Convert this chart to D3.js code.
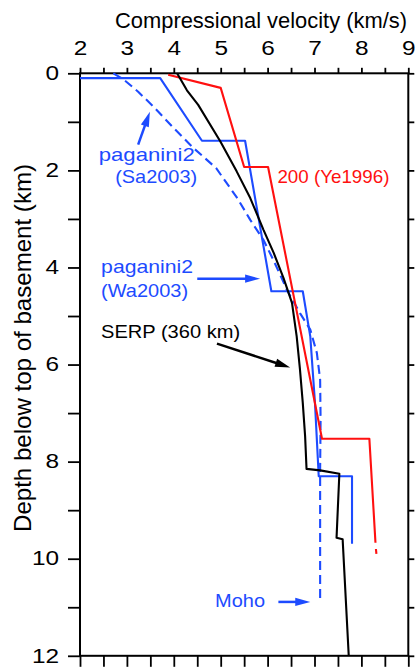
<!DOCTYPE html>
<html>
<head>
<meta charset="utf-8">
<script src="https://cdn.jsdelivr.net/npm/d3@7"></script>
<style>
  html, body { margin: 0; padding: 0; background: #fff; }
  svg { display: block; font-family: "Liberation Sans", Arial, Helvetica, sans-serif; }
</style>
</head>
<body>
<svg id="chart" width="416" height="668"></svg>
<script>
// ---- data: P-wave velocity (km/s) vs depth below top of basement (km) ----
const velocityTicks = [2, 3, 4, 5, 6, 7, 8, 9];
const depthTicks = [0, 2, 4, 6, 8, 10, 12];

// SERP line, 360 km
const serpVelocity = [4.07, 4.28, 4.52, 4.99, 5.34, 5.63, 5.91, 6.13, 6.34, 6.52, 6.62, 6.69, 6.75, 6.80, 6.83, 7.12, 7.53, 7.47, 7.60, 7.73];
const serpDepth    = [0.00, 0.35, 0.65, 1.40, 2.02, 2.57, 3.22, 3.70, 4.22, 4.73, 5.42, 6.10, 6.79, 7.48, 8.15, 8.18, 8.25, 9.57, 9.60, 12.0];

// line 200 (Ye 1996)
const yeVelocity = [3.88, 5.00, 5.50, 6.01, 7.16, 8.17, 8.30, null, 8.31, 8.32];
const yeDepth    = [0.03, 0.30, 1.93, 1.93, 7.53, 7.53, 9.67, null, 9.80, 9.90];

// paganini2 (Wa 2003), layered model
const waVelocity = [2.00, 3.71, 4.60, 5.52, 6.08, 6.75, 6.91, 7.01, 7.09, 7.80, 7.80];
const waDepth    = [0.10, 0.10, 1.39, 1.39, 4.49, 4.49, 5.42, 6.79, 8.30, 8.30, 9.69];

// paganini2 (Sa 2003), gradient model
const saVelocity = [2.71, 2.92, 3.24, 3.56, 3.99, 4.42, 4.90, 5.36, 5.63, 5.91, 6.12, 6.30, 6.41, 6.69, 6.91, 7.05, 7.12, 7.13, 7.12, 7.12];
const saDepth    = [0.00, 0.12, 0.38, 0.68, 1.12, 1.54, 1.95, 2.58, 3.02, 3.43, 3.84, 4.22, 4.46, 4.94, 5.28, 5.76, 6.31, 7.13, 8.16, 10.87];

const BLUE = "#1d4bff";
const RED = "#ff1010";
const BLACK = "#000";

const svg = d3.select("#chart");
const x = d3.scaleLinear().domain([2, 9]).range([80, 408.3]);
const y = d3.scaleLinear().domain([0, 12]).range([73.3, 655.8]);

const zipSeries = (vs, ds) => vs.map((v, i) => ({ v, d: ds[i] }));

// ---- axes ----
const tickFont = 19.5, tickStretch = 1.25;

const topAxis = d3.axisTop(x)
  .tickValues(d3.range(2, 9.01, 0.5))
  .tickSize(5.5).tickPadding(12.5)
  .tickFormat(v => velocityTicks.includes(v) ? String(v) : "");
const gTop = svg.append("g").attr("transform", `translate(0,${y(0)})`).call(topAxis);

const leftAxis = d3.axisLeft(y)
  .tickValues(d3.range(0, 12.01, 1))
  .tickSize(12).tickPadding(9)
  .tickFormat(v => depthTicks.includes(v) ? String(v) : "");
const gLeft = svg.append("g").attr("transform", `translate(${x(2)},0)`).call(leftAxis);

const rightAxis = d3.axisRight(y).tickValues(d3.range(0, 12.01, 1)).tickSize(6).tickFormat("");
const gRight = svg.append("g").attr("transform", `translate(${x(9)},0)`).call(rightAxis);

const bottomAxis = d3.axisBottom(x).tickValues(d3.range(2, 9.01, 0.5)).tickSize(11).tickFormat("");
const gBottom = svg.append("g").attr("transform", `translate(0,${y(12)})`).call(bottomAxis);

[gTop, gLeft, gRight, gBottom].forEach(g => {
  g.select(".domain").attr("stroke", BLACK).attr("stroke-width", 2).attr("d", null);
  g.selectAll(".tick line").attr("stroke", BLACK).attr("stroke-width", 1.8);
  g.selectAll(".tick text").attr("fill", BLACK).attr("font-size", tickFont)
    .attr("font-family", "'Liberation Sans', Arial, sans-serif");
});
gTop.selectAll(".tick text").attr("transform", `scale(${tickStretch},1)`);
gLeft.selectAll(".tick text")
  .attr("x", -21 / tickStretch)
  .attr("transform", `scale(${tickStretch},1)`);

// plot frame
svg.append("rect")
  .attr("x", x(2)).attr("y", y(0))
  .attr("width", x(9) - x(2)).attr("height", y(12) - y(0))
  .attr("fill", "none").attr("stroke", BLACK).attr("stroke-width", 2);

// ---- axis titles ----
svg.append("text")
  .attr("x", 115).attr("y", 28)
  .attr("font-size", 22.5).attr("textLength", 292).attr("lengthAdjust", "spacingAndGlyphs")
  .text("Compressional velocity (km/s)");

svg.append("text")
  .attr("transform", "translate(31,348) rotate(-90)")
  .attr("text-anchor", "middle")
  .attr("font-size", 24).attr("textLength", 368).attr("lengthAdjust", "spacingAndGlyphs")
  .text("Depth below top of basement (km)");

// ---- velocity profiles ----
const line = d3.line()
  .defined(p => p.v != null && p.d != null)
  .x(p => x(p.v)).y(p => y(p.d));

const plot = svg.append("g").attr("fill", "none").attr("stroke-width", 2.1).attr("stroke-linejoin", "round");
plot.append("path").datum(zipSeries(saVelocity, saDepth))
  .attr("d", line).attr("stroke", BLUE).attr("stroke-dasharray", "9,5");
plot.append("path").datum(zipSeries(waVelocity, waDepth))
  .attr("d", line).attr("stroke", BLUE);
plot.append("path").datum(zipSeries(yeVelocity, yeDepth))
  .attr("d", line).attr("stroke", RED);
plot.append("path").datum(zipSeries(serpVelocity, serpDepth))
  .attr("d", line).attr("stroke", BLACK);

// ---- annotations (positions in velocity / depth units) ----
const labels = [
  { text: "paganini2",    v: 2.40, d: 1.80,  w: 96,  color: BLUE },
  { text: "(Sa2003)",     v: 2.75, d: 2.26,  w: 82,  color: BLUE },
  { text: "200 (Ye1996)", v: 6.21, d: 2.26,  w: 112, color: RED },
  { text: "paganini2",    v: 2.45, d: 4.12,  w: 92,  color: BLUE },
  { text: "(Wa2003)",     v: 2.45, d: 4.60,  w: 87,  color: BLUE },
  { text: "SERP (360 km)",v: 2.45, d: 5.46,  w: 139, color: BLACK },
  { text: "Moho",         v: 4.88, d: 10.99, w: 50,  color: BLUE }
];
svg.append("g").selectAll("text").data(labels).join("text")
  .attr("x", l => x(l.v)).attr("y", l => y(l.d))
  .attr("font-size", 19)
  .attr("textLength", l => l.w).attr("lengthAdjust", "spacingAndGlyphs")
  .attr("fill", l => l.color)
  .text(l => l.text);

const arrows = [
  { v0: 3.24, d0: 1.47, v1: 3.49, d1: 0.79,  color: BLUE },
  { v0: 4.50, d0: 4.23, v1: 5.84, d1: 4.23,  color: BLUE },
  { v0: 4.92, d0: 5.57, v1: 6.48, d1: 6.06,  color: BLACK },
  { v0: 6.23, d0: 10.89, v1: 6.91, d1: 10.89, color: BLUE }
];
const headLen = 15, headHalf = 4.2;
const ga = svg.append("g");
arrows.forEach(a => {
  const x0 = x(a.v0), y0 = y(a.d0), x1 = x(a.v1), y1 = y(a.d1);
  const len = Math.hypot(x1 - x0, y1 - y0);
  const ux = (x1 - x0) / len, uy = (y1 - y0) / len;
  const bx = x1 - ux * headLen, by = y1 - uy * headLen;
  ga.append("line")
    .attr("x1", x0).attr("y1", y0).attr("x2", bx + ux * 2).attr("y2", by + uy * 2)
    .attr("stroke", a.color).attr("stroke-width", 2.5);
  ga.append("path")
    .attr("d", `M${x1},${y1}L${bx - uy * headHalf},${by + ux * headHalf}L${bx + uy * headHalf},${by - ux * headHalf}Z`)
    .attr("fill", a.color);
});
</script>
</body>
</html>
